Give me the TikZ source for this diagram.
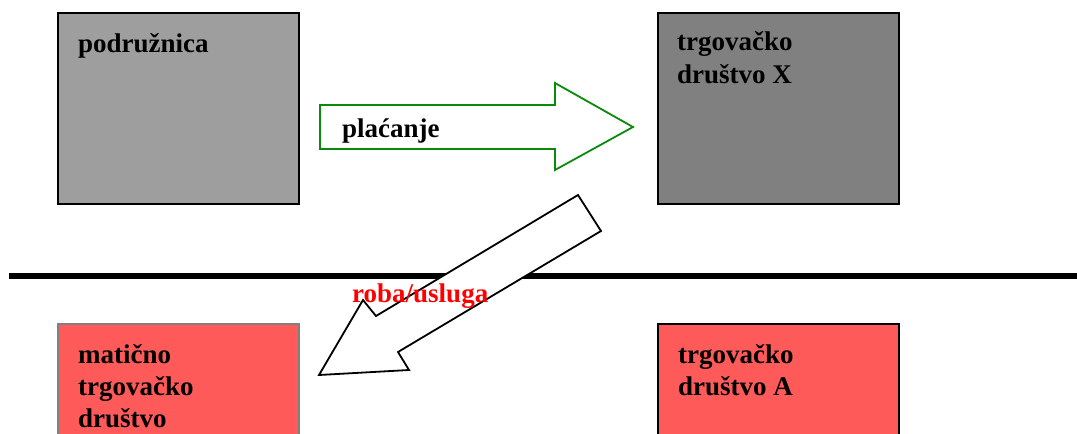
\documentclass[tikz,border=0pt]{standalone}
\usepackage{fontspec}
\setmainfont{Liberation Serif}
\usepackage{tikz}
\usetikzlibrary{positioning, calc}
\definecolor{colorgrid}{HTML}{9E9E9E}
\definecolor{colordark}{HTML}{808080}
\definecolor{colorred}{HTML}{FF5A5A}
\definecolor{colorgreen}{HTML}{0A8A0A}
\tikzstyle{firm}=[draw=black, line width=1.8pt, minimum width=241pt, anchor=north west, inner sep=0pt]
\tikzstyle{firmtext}=[anchor=base west, align=left, inner sep=0pt, font=\bfseries\fontsize{27}{33}\selectfont]
\tikzstyle{blockarrow}=[draw, line width=1.8pt, line join=miter, fill=white]

\begin{document}
\begin{tikzpicture}[x=1pt, y=-1pt]
\clip (0,0) rectangle (1077,434);

% upper level
\node[firm, fill=colorgrid, minimum height=191pt](pod) at (57,12){};
\node[firm, fill=colordark, minimum height=191pt](tdx) at (657,12){};
% base = last line
\node[firmtext] (podname) at ($(pod.north west)+(21,40)$){podružnica};
\node[firmtext] (tdxname) at ($(tdx.north west)+(20,71)$){trgovačko\\društvo X};

% separating line
\coordinate (lineL) at (9,275.5);
\coordinate (lineR) at (1077,275.5);
\draw[line width=6pt] (lineL) -- (lineR);

% lower level
\node[firm, fill=colorred, draw=colordark, minimum height=140pt](mat) at (57,323){};
\node[firm, fill=colorred, minimum height=140pt](tda) at (657,323){};
\node[firmtext, font=\bfseries\fontsize{27}{32}\selectfont] (matname) at ($(mat.north west)+(21,104)$){matično\\trgovačko\\društvo};
\node[firmtext, font=\bfseries\fontsize{27}{32}\selectfont] (tdaname) at ($(tda.north west)+(21,72)$){trgovačko\\društvo A};

% payment
\draw[blockarrow, draw=colorgreen] (320,105) -- (555,105) -- (555,83) -- (633,127)
  -- (555,170) -- (555,149) -- (320,149) -- cycle;
\node[firmtext] (pay) at (342,137){plaćanje};

% goods / services
\draw[blockarrow] (578,195) -- (601,231) -- (398,352) -- (409,370) -- (319,375)
  -- (363,300) -- (376,316) -- cycle;
\node[firmtext, text=red] (goods) at (352,302){roba/usluga};

\end{tikzpicture}
\end{document}
